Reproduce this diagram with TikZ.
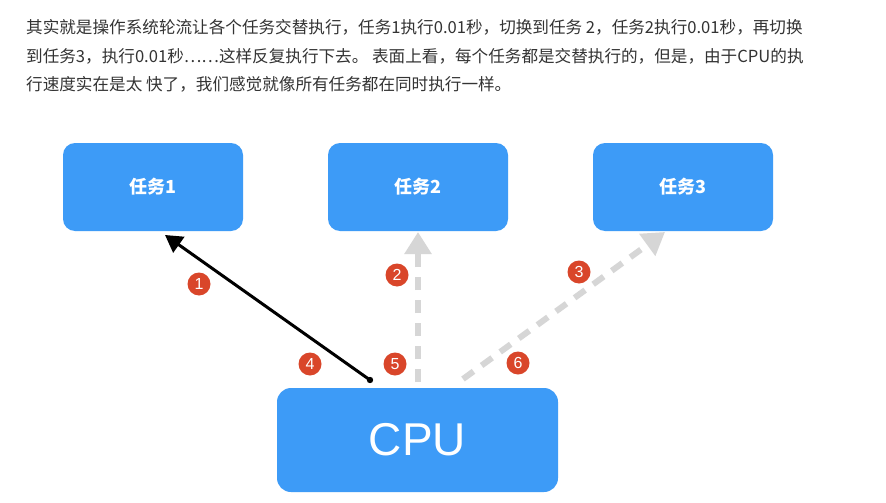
\documentclass[tikz,border=0pt]{standalone}
\usepackage{fontspec}
\setmainfont{Noto Sans CJK SC}
\newfontfamily\cpufont{Liberation Sans}
\usetikzlibrary{arrows.meta}
\definecolor{boxblue}{HTML}{3D9BF7}
\definecolor{badgered}{HTML}{D9462A}
\definecolor{dashgray}{HTML}{D6D6D6}
\definecolor{txtgray}{HTML}{333333}
\tikzset{
  taskbox/.style={fill=boxblue, rounded corners=12pt, minimum width=180pt, minimum height=88pt, text=white, font=\fontsize{18}{20}\selectfont\bfseries, inner sep=0pt},
  cpubox/.style={fill=boxblue, rounded corners=14pt, minimum width=281pt, minimum height=104pt, text=white, font=\cpufont\fontsize{46}{50}\selectfont, inner sep=0pt},
  badge/.style={circle, fill=badgered, minimum size=23pt, inner sep=0pt, text=white, font=\cpufont\fontsize{16}{16}\selectfont},
  para/.style={anchor=west, inner sep=0pt, text=txtgray, font=\fontsize{16.6}{18}\selectfont},
  grayarrow/.style={draw=dashgray, line width=6pt, dash pattern=on 13pt off 10pt, -{Triangle[length=22pt,width=26pt]}},
  blackarrow/.style={draw=black, line width=3pt, -{Triangle[length=17pt,width=19pt]}}
}
\begin{document}
\begin{tikzpicture}[x=1pt,y=-1pt]
\useasboundingbox[fill=white] (0,0) rectangle (886,503);
\node[para] (l1) at (26,27) {其实就是操作系统轮流让各个任务交替执行，任务1执行0.01秒，切换到任务 2，任务2执行0.01秒，再切换};
\node[para] (l2) at (26,56) {到任务3，执行0.01秒……这样反复执行下去。 表面上看，每个任务都是交替执行的，但是，由于CPU的执};
\node[para] (l3) at (26,84) {行速度实在是太 快了，我们感觉就像所有任务都在同时执行一样。};

\node[taskbox] (t1) at (153,187) {任务1};
\node[taskbox] (t2) at (418,187) {任务2};
\node[taskbox] (t3) at (683,187) {任务3};
\node[cpubox] (cpu) at (417.5,440) {CPU};

\coordinate (a1s) at (370,380);
\coordinate (a1e) at (165,235);
\coordinate (a2s) at (418,382);
\coordinate (a2e) at (418,232);
\coordinate (a3s) at (463,379);
\coordinate (a3e) at (665,232);

\draw[grayarrow] (a2s) -- (a2e);
\draw[grayarrow] (a3s) -- (a3e);
\draw[blackarrow] (a1s) -- (a1e);
\fill (a1s) circle (3.2pt);

\node[badge] (b1) at (199,284) {1};
\node[badge] (b2) at (397,275) {2};
\node[badge] (b3) at (579,272) {3};
\node[badge] (b4) at (310,364) {4};
\node[badge] (b5) at (395,364) {5};
\node[badge] (b6) at (518,363) {6};
\end{tikzpicture}
\end{document}
